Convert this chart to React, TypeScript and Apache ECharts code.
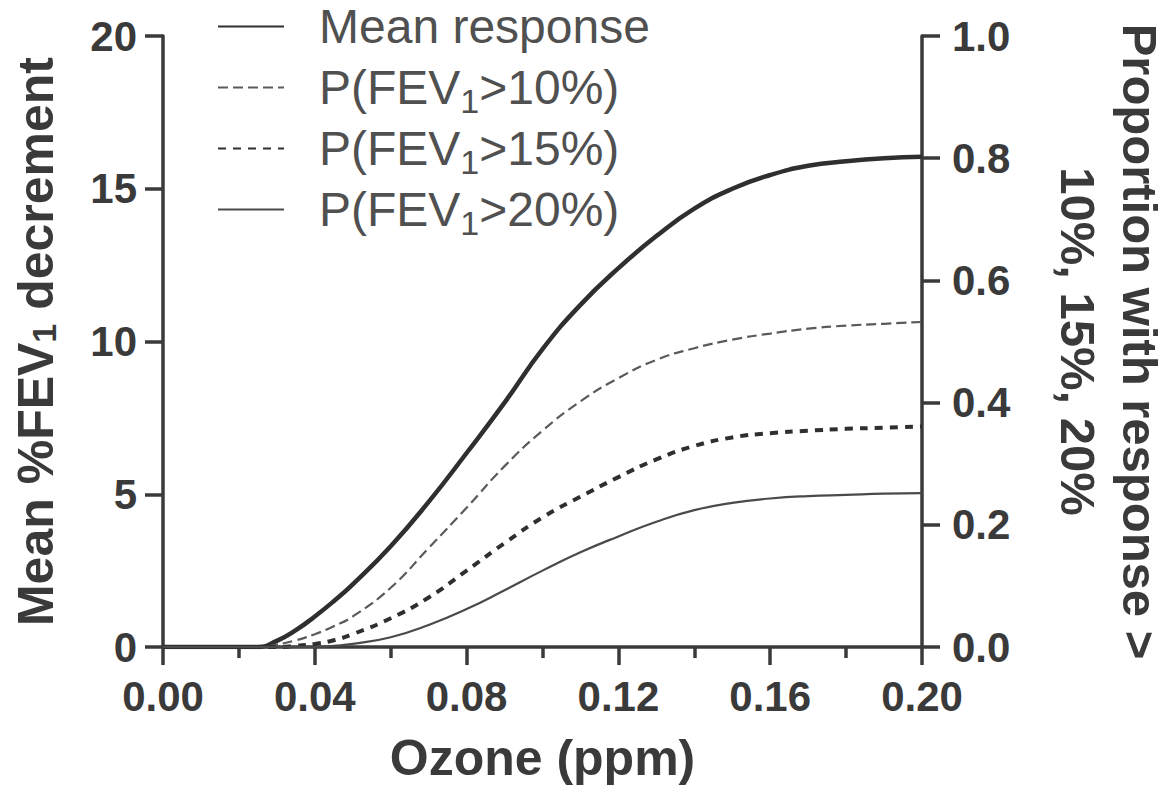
import React, { useEffect, useRef } from "react";
import * as echarts from "echarts";

// Ozone concentration (ppm)
const ozone = [0, 0.01, 0.02, 0.025, 0.03, 0.035, 0.04, 0.045, 0.05, 0.06, 0.07, 0.08, 0.09, 0.1, 0.11, 0.12, 0.13, 0.14, 0.15, 0.16, 0.17, 0.18, 0.19, 0.2];
// Mean %FEV1 decrement (left axis)
const meanResponse = [0, 0, 0, 0, 0.2, 0.55, 1.0, 1.5, 2.05, 3.3, 4.75, 6.35, 8.0, 9.75, 11.2, 12.4, 13.45, 14.35, 15.0, 15.45, 15.75, 15.9, 16.0, 16.05];
// Proportions (right axis)
const p10 = [0, 0, 0, 0, 0.004, 0.011, 0.021, 0.034, 0.05, 0.097, 0.162, 0.228, 0.296, 0.354, 0.402, 0.44, 0.47, 0.489, 0.503, 0.513, 0.521, 0.526, 0.529, 0.532];
const p15 = [0, 0, 0, 0, 0, 0.002, 0.005, 0.011, 0.021, 0.047, 0.081, 0.125, 0.17, 0.212, 0.246, 0.278, 0.307, 0.329, 0.343, 0.35, 0.354, 0.357, 0.359, 0.361];
const p20 = [0, 0, 0, 0, 0, 0, 0, 0.002, 0.005, 0.016, 0.036, 0.062, 0.093, 0.125, 0.155, 0.181, 0.205, 0.224, 0.236, 0.243, 0.247, 0.249, 0.251, 0.252];

const seriesNames = ["Mean response", "P(FEV1>10%)", "P(FEV1>15%)", "P(FEV1>20%)"];
const xTicks = { min: 0, max: 0.2, interval: 0.04 };
const leftTicks = { min: 0, max: 20, interval: 5 };
const rightTicks = { min: 0, max: 1, interval: 0.2 };

const INK = "#3a3a3a";
const FONT = "Liberation Sans, Arial, sans-serif";

const pairs = (vals: number[]) => ozone.map((x, i) => [x, vals[i]]);

export default function App() {
  const ref = useRef<HTMLDivElement>(null);
  useEffect(() => {
    if (!ref.current) return;
    const chart = echarts.init(ref.current, null, { renderer: "svg", width: 1170, height: 793 });
    const axisCommon = {
      axisLine: { show: true, lineStyle: { color: INK, width: 3.5 } },
      axisTick: { show: true, inside: false, length: 18, lineStyle: { color: INK, width: 3.5 } },
      splitLine: { show: false },
    };
    const labelStyle = { fontSize: 42, fontWeight: "bold", color: INK, fontFamily: FONT };
    const titleStyle = { fontSize: 50, fontWeight: "bold", color: INK, fontFamily: FONT };
    const rightTitleStyle = { ...titleStyle, fontSize: 49 };
    const lineCommon = { type: "line", symbol: "none", showSymbol: false, smooth: 0.5 };
    chart.setOption({
      animation: false,
      backgroundColor: "#ffffff",
      grid: { left: 163, right: 248, top: 36, bottom: 146, containLabel: false, outerBoundsMode: "none" },
      legend: {
        orient: "vertical",
        left: 212,
        top: -9,
        itemWidth: 66,
        itemHeight: 14,
        itemGap: 0,
        data: seriesNames,
        itemStyle: { opacity: 0, color: "transparent", borderWidth: 0 },
        formatter: (name: string) => name.replace("FEV1", "FEV{s|1}"),
        textStyle: {
          fontSize: 48,
          color: "#505050",
          fontFamily: FONT,
          lineHeight: 61,
          padding: [0, 0, 0, 30],
          rich: {
            s: { fontSize: 34, color: "#505050", fontFamily: FONT, lineHeight: 61, verticalAlign: "bottom" },
          },
        },
      },
      xAxis: {
        type: "value",
        ...xTicks,
        ...axisCommon,
        minorTick: { show: true, splitNumber: 2, length: 11, lineStyle: { color: INK, width: 3.5 } },
        axisLabel: { ...labelStyle, margin: 28, formatter: (v: number) => v.toFixed(2) },
        name: "Ozone (ppm)",
        nameLocation: "middle",
        nameGap: 86,
        nameTextStyle: titleStyle,
      },
      yAxis: [
        {
          type: "value",
          position: "left",
          ...leftTicks,
          ...axisCommon,
          axisLabel: { ...labelStyle, margin: 26 },
          name: "Mean %FEV{s|1} decrement",
          nameLocation: "middle",
          nameRotate: 90,
          nameGap: 102,
          nameTextStyle: {
            ...titleStyle,
            rich: { s: { ...titleStyle, fontSize: 34, verticalAlign: "bottom" } },
          },
        },
        {
          type: "value",
          position: "right",
          ...rightTicks,
          ...axisCommon,
          axisLabel: { ...labelStyle, margin: 30, formatter: (v: number) => v.toFixed(1) },
          name: "{a|Proportion with response >}\n{b|10%, 15%, 20%}",
          nameLocation: "middle",
          nameRotate: -90,
          nameGap: 118,
          nameTextStyle: {
            ...rightTitleStyle,
            rich: {
              a: { ...rightTitleStyle, lineHeight: 49 },
              b: { ...rightTitleStyle, lineHeight: 75 },
            },
          },
        },
      ],
      series: [
        {
          ...lineCommon,
          name: seriesNames[0],
          yAxisIndex: 0,
          data: pairs(meanResponse),
          lineStyle: { color: "#2f2f2f", width: 4.5, type: "solid" },
          itemStyle: { color: "#2f2f2f" },
        },
        {
          ...lineCommon,
          name: seriesNames[1],
          yAxisIndex: 1,
          data: pairs(p10),
          lineStyle: { color: "#5a5a5a", width: 2.2, type: [10, 5] },
          itemStyle: { color: "#5a5a5a" },
        },
        {
          ...lineCommon,
          name: seriesNames[2],
          yAxisIndex: 1,
          data: pairs(p15),
          lineStyle: { color: "#2f2f2f", width: 4, type: [8, 7] },
          itemStyle: { color: "#2f2f2f" },
        },
        {
          ...lineCommon,
          name: seriesNames[3],
          yAxisIndex: 1,
          data: pairs(p20),
          lineStyle: { color: "#4a4a4a", width: 2.2, type: "solid" },
          itemStyle: { color: "#4a4a4a" },
        },
      ],
    });
    return () => chart.dispose();
  }, []);
  return <div ref={ref} style={{ position: "absolute", left: 0, top: 0, width: 1170, height: 793 }} />;
}
